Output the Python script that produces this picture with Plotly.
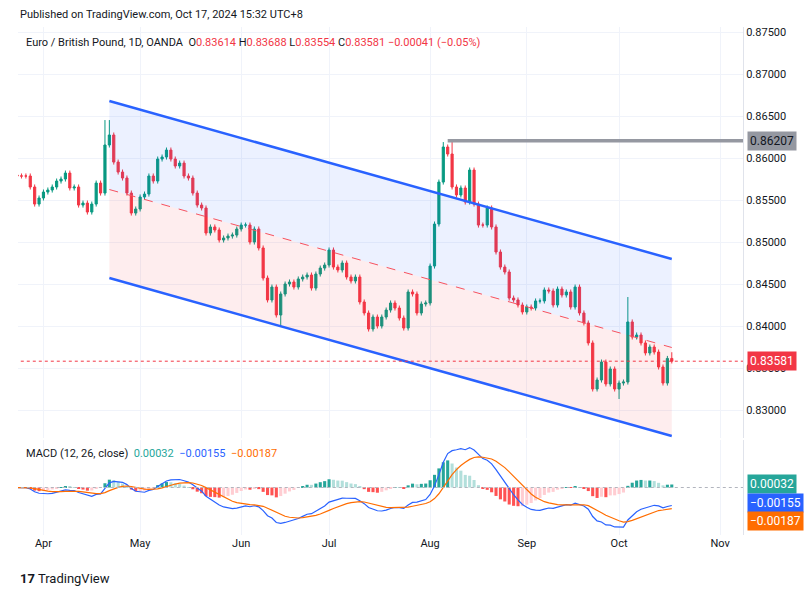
import pandas as pd
import plotly.graph_objects as go

# daily closes, EUR/GBP
closes = [
    0.85798, 0.85786, 0.85786, 0.85786, 0.85655, 0.85452, 0.85524, 0.85595, 0.85619, 0.85655,
    0.85726, 0.85750, 0.85821, 0.85643, 0.85655, 0.85440, 0.85464, 0.85357, 0.85452, 0.85702,
    0.85583, 0.86155, 0.86274, 0.85952, 0.85833, 0.85762, 0.85583, 0.85345, 0.85393, 0.85536,
    0.85571, 0.85786, 0.85726, 0.85988, 0.86012, 0.86095, 0.85988, 0.85905, 0.85940, 0.85786,
    0.85762, 0.85583, 0.85440, 0.85405, 0.85107, 0.85179, 0.85143, 0.85024, 0.85048, 0.85071,
    0.85083, 0.85155, 0.85202, 0.85202, 0.85000, 0.85155, 0.84929, 0.84571, 0.84310, 0.84464,
    0.84131, 0.84381, 0.84500, 0.84524, 0.84464, 0.84560, 0.84583, 0.84607, 0.84452, 0.84619,
    0.84690, 0.84726, 0.84905, 0.84702, 0.84667, 0.84750, 0.84583, 0.84536, 0.84583, 0.84286,
    0.84155, 0.83964, 0.84107, 0.84000, 0.84107, 0.84190, 0.84274, 0.84214, 0.84095, 0.83976,
    0.84405, 0.84381, 0.84155,
    0.84262, 0.84274, 0.84714, 0.85214, 0.85714, 0.86131, 0.86048, 0.85655, 0.85560, 0.85643,
    0.85476, 0.85857, 0.85452, 0.85202, 0.85202, 0.85405, 0.85179, 0.84881, 0.84702, 0.84643,
    0.84333, 0.84310, 0.84250, 0.84167, 0.84226, 0.84214, 0.84298, 0.84298, 0.84429, 0.84417,
    0.84250, 0.84440, 0.84369, 0.84405, 0.84226, 0.84464, 0.84155, 0.84036, 0.83798, 0.83250,
    0.83357, 0.83571, 0.83310, 0.83488, 0.83250, 0.83321, 0.83333, 0.84048, 0.83869, 0.83893,
    0.83798, 0.83679, 0.83750, 0.83690, 0.83512, 0.83321, 0.83614, 0.83581,
]
first_open = 0.85440
wick = 0.0003
high_marks = {21: 0.86452, 22: 0.86452, -53: 0.86190, -51: 0.86207, -11: 0.84345}
low_marks = {61: 0.83988, -13: 0.83131}

channel_dates = ["2024-04-22", "2024-10-17"]
channel_upper = [0.86679, 0.84798]
channel_lower = [0.84571, 0.82690]
resist_level = 0.86207
resist_start = "2024-08-07"

dates = pd.bdate_range(end="2024-10-17", periods=len(closes))
opens = [first_open] + closes[:-1]
opens[-1] = 0.83614
highs = [max(o, c) + wick for o, c in zip(opens, closes)]
lows = [min(o, c) - wick for o, c in zip(opens, closes)]
for k, v in high_marks.items():
    highs[k] = v
for k, v in low_marks.items():
    lows[k] = v
highs[-1], lows[-1] = 0.83688, 0.83554

s = pd.Series(closes, index=dates)
macd = s.ewm(span=12, adjust=False).mean() - s.ewm(span=26, adjust=False).mean()
signal = macd.ewm(span=9, adjust=False).mean()
hist = macd - signal
hcol = []
for i, h in enumerate(hist):
    prev = hist.iloc[i - 1] if i else h
    if h >= 0:
        hcol.append("#26A69A" if h >= prev else "#B2DFDB")
    else:
        hcol.append("#FFCDD2" if h >= prev else "#FF5252")

fig = go.Figure()
mid = [(u + l) / 2 for u, l in zip(channel_upper, channel_lower)]
fig.add_trace(go.Scatter(x=channel_dates, y=mid, mode="lines", line=dict(width=0), hoverinfo="skip"))
fig.add_trace(go.Scatter(x=channel_dates, y=channel_upper, mode="lines", fill="tonexty",
                         fillcolor="rgba(41,98,255,0.09)", line=dict(color="#2962FF", width=2.5)))
fig.add_trace(go.Scatter(x=channel_dates, y=mid, mode="lines", line=dict(width=0), hoverinfo="skip"))
fig.add_trace(go.Scatter(x=channel_dates, y=channel_lower, mode="lines", fill="tonexty",
                         fillcolor="rgba(242,54,69,0.09)", line=dict(color="#2962FF", width=2.5)))
fig.add_trace(go.Scatter(x=channel_dates, y=mid, mode="lines",
                         line=dict(color="#F7525F", width=1, dash="dash")))
fig.add_trace(go.Scatter(x=[resist_start, "2024-11-15"], y=[resist_level] * 2, mode="lines",
                         line=dict(color="#9598A1", width=3.5)))
fig.add_trace(go.Scatter(x=["2024-03-01", "2024-11-15"], y=[closes[-1]] * 2, mode="lines",
                         line=dict(color="#F23645", width=1, dash="dot")))
fig.add_trace(go.Candlestick(x=dates, open=opens, high=highs, low=lows, close=closes,
                             increasing=dict(line=dict(color="#089981", width=1), fillcolor="#089981"),
                             decreasing=dict(line=dict(color="#F23645", width=1), fillcolor="#F23645"),
                             whiskerwidth=0))
fig.add_trace(go.Bar(x=dates, y=hist, marker_color=hcol, marker_line_width=0, yaxis="y2", xaxis="x2"))
fig.add_trace(go.Scatter(x=dates, y=macd, mode="lines", line=dict(color="#2962FF", width=1.2),
                         yaxis="y2", xaxis="x2"))
fig.add_trace(go.Scatter(x=dates, y=signal, mode="lines", line=dict(color="#FF6D00", width=1.2),
                         yaxis="y2", xaxis="x2"))
fig.add_trace(go.Scatter(x=["2024-03-01", "2024-11-15"], y=[0, 0], mode="lines",
                         line=dict(color="#B2B5BE", width=1, dash="dot"), yaxis="y2", xaxis="x2"))

xr = ["2024-03-22 05:00", "2024-11-08 05:00"]
month_ticks = ["2024-04-01", "2024-05-01", "2024-06-03", "2024-07-01", "2024-08-01",
               "2024-09-02", "2024-10-01", "2024-11-01"]
month_text = ["Apr", "May", "Jun", "Jul", "Aug", "Sep", "Oct", "Nov"]
rb = [dict(bounds=["sat", "mon"])]
grid = "#F0F3FA"
fig.update_layout(
    width=812, height=596, showlegend=False, plot_bgcolor="white", paper_bgcolor="white",
    margin=dict(l=10, r=77, t=19, b=69), bargap=0.3,
    font=dict(family="Roboto", size=11, color="#131722"),
    xaxis=dict(range=xr, rangebreaks=rb, domain=[0, 1], anchor="y", tickvals=month_ticks,
               showticklabels=False, gridcolor=grid, rangeslider=dict(visible=False),
               showline=False, zeroline=False),
    xaxis2=dict(range=xr, rangebreaks=rb, domain=[0, 1], anchor="y2", tickvals=month_ticks,
                ticktext=month_text, gridcolor=grid, showline=False, ticks=""),
    yaxis=dict(domain=[0.191, 1], range=[0.82667, 0.8756], side="right", tickformat=".5f",
               dtick=0.005, tick0=0.83, gridcolor=grid, zeroline=False, ticks="",
               showline=True, linecolor="#E0E3EB"),
    yaxis2=dict(domain=[0, 0.187], range=[-0.0042, 0.0042], side="right", showticklabels=False,
                showgrid=False, zeroline=False, showline=True, linecolor="#E0E3EB"),
)


def box(y, text, bg, fg="white", yref="y"):
    fig.add_annotation(x=1.005, xref="paper", y=y, yref=yref, text=text, showarrow=False,
                       xanchor="left", bgcolor=bg, font=dict(color=fg, size=12),
                       borderpad=2)


box(resist_level, "0.86207", "#9598A1", "#131722")
box(closes[-1], "0.83581", "#F23645")
box(0.080, "0.00032", "#26A69A", yref="paper")
box(0.043, "\u22120.00155", "#2962FF", yref="paper")
box(0.008, "\u22120.00187", "#FF6D00", yref="paper")

red = "#F23645"
fig.add_annotation(x=0, y=1.024, xref="paper", yref="paper", xanchor="left", yanchor="middle",
                   showarrow=False, text="Published on TradingView.com, Oct 17, 2024 15:32 UTC+8",
                   font=dict(size=11, color="#131722"))
fig.add_annotation(x=0.008, y=0.970, xref="paper", yref="paper", xanchor="left", yanchor="middle",
                   showarrow=False,
                   text=("Euro / British Pound, 1D, OANDA  "
                         f"O<span style='color:{red}'>0.83614</span> H<span style='color:{red}'>0.83688</span> "
                         f"L<span style='color:{red}'>0.83554</span> C<span style='color:{red}'>0.83581</span> "
                         f"<span style='color:{red}'>\u22120.00041 (\u22120.05%)</span>"),
                   font=dict(size=11))
fig.add_annotation(x=0.008, y=0.161, xref="paper", yref="paper", xanchor="left", yanchor="middle",
                   showarrow=False,
                   text=("MACD (12, 26, close)  <span style='color:#26A69A'>0.00032</span>  "
                         "<span style='color:#2962FF'>\u22120.00155</span>  "
                         "<span style='color:#FF6D00'>\u22120.00187</span>"),
                   font=dict(size=11))
fig.add_annotation(x=0, y=-0.085, xref="paper", yref="paper", xanchor="left", yanchor="middle",
                   showarrow=False, text="<b>17</b> TradingView",
                   font=dict(size=13, color="#131722"))

fig.write_html("out.html")
